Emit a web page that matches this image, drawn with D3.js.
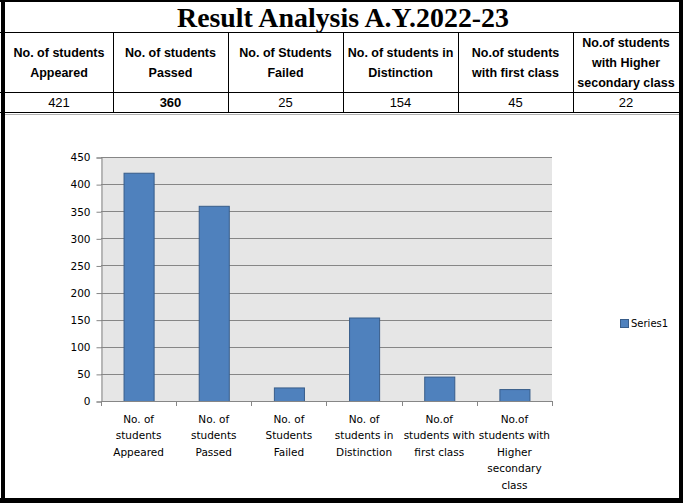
<!DOCTYPE html>
<html>
<head>
<meta charset="utf-8">
<script src="https://cdn.jsdelivr.net/npm/d3@7"></script>
<style>
  body { margin: 0; background: #fff; }
  svg { display: block; }
</style>
</head>
<body>
<svg id="chart" width="683" height="503"></svg>
<script>
// ---------- data ----------
const title = "Result Analysis A.Y.2022-23";
const tableHeaders = [
  ["No. of students", "Appeared"],
  ["No. of students", "Passed"],
  ["No. of Students", "Failed"],
  ["No. of students in", "Distinction"],
  ["No.of students", "with first class"],
  ["No.of students", "with Higher", "secondary class"]
];
const categories = [
  "No. of\nstudents\nAppeared",
  "No. of\nstudents\nPassed",
  "No. of\nStudents\nFailed",
  "No. of\nstudents in\nDistinction",
  "No.of\nstudents with\nfirst class",
  "No.of\nstudents with\nHigher\nsecondary\nclass"
];
const values = [421, 360, 25, 154, 45, 22];
const boldValue = [false, true, false, false, false, false];
const yTicks = [0, 50, 100, 150, 200, 250, 300, 350, 400, 450];
const seriesName = "Series1";

// ---------- drawing ----------
const svg = d3.select("#chart");
const W = 683, H = 503;

svg.append("rect").attr("x", 0).attr("y", 0).attr("width", W).attr("height", H).attr("fill", "#fff");

// table geometry
const colEdges = [5, 113, 228, 343, 458, 573, 679];
const rowHeadTop = 32, rowDataTop = 92, rowDataBottom = 112;

const table = svg.append("g");
[rowHeadTop, rowDataTop, rowDataBottom].forEach(y => {
  table.append("line").attr("x1", 0).attr("x2", W).attr("y1", y + 0.5).attr("y2", y + 0.5)
    .attr("stroke", "#000").attr("stroke-width", 1);
});
table.append("line").attr("x1", 5).attr("x2", 679).attr("y1", 114.5).attr("y2", 114.5)
  .attr("stroke", "#b0b0b0").attr("stroke-width", 1);
colEdges.slice(1, -1).forEach(x => {
  table.append("line").attr("x1", x + 0.5).attr("x2", x + 0.5).attr("y1", rowHeadTop).attr("y2", rowDataBottom)
    .attr("stroke", "#000").attr("stroke-width", 1);
});

// title
table.append("text").attr("x", 343).attr("y", 27).attr("text-anchor", "middle")
  .attr("font-family", "'Liberation Serif', 'Times New Roman', serif").attr("font-weight", "bold")
  .attr("font-size", 28).attr("textLength", 332).attr("lengthAdjust", "spacingAndGlyphs")
  .attr("fill", "#000").text(title);

// headers and values
tableHeaders.forEach((lines, i) => {
  const cx = (colEdges[i] + colEdges[i + 1]) / 2;
  const startY = lines.length === 3 ? 43 : 53;
  lines.forEach((ln, j) => {
    table.append("text").attr("x", cx).attr("y", startY + j * 20).attr("dy", "0.35em")
      .attr("text-anchor", "middle")
      .attr("font-family", "'Liberation Sans', Arial, sans-serif")
      .attr("font-weight", "bold").attr("font-size", 12.5).attr("fill", "#000").text(ln);
  });
  table.append("text").attr("x", cx).attr("y", 102).attr("dy", "0.35em").attr("text-anchor", "middle")
    .attr("font-family", "'Liberation Sans', Arial, sans-serif")
    .attr("font-weight", boldValue[i] ? "bold" : "normal")
    .attr("font-size", 13).attr("fill", "#000").text(values[i]);
});

// ---------- chart ----------
const plot = { left: 101, right: 552, top: 157, bottom: 401 };
const x = d3.scaleBand().domain(categories).range([plot.left, plot.right])
  .paddingInner(0.6).paddingOuter(0.3);
const y = d3.scaleLinear().domain([0, 450]).range([plot.bottom, plot.top]);

const chart = svg.append("g");
chart.append("rect").attr("x", plot.left).attr("y", plot.top)
  .attr("width", plot.right - plot.left).attr("height", plot.bottom - plot.top)
  .attr("fill", "#e6e6e6");

chart.selectAll("line.grid").data(yTicks.filter(t => t > 0)).enter().append("line")
  .attr("class", "grid")
  .attr("x1", plot.left).attr("x2", plot.right)
  .attr("y1", d => Math.round(y(d)) + 0.5).attr("y2", d => Math.round(y(d)) + 0.5)
  .attr("stroke", "#868686").attr("stroke-width", 1);

chart.selectAll("rect.bar").data(categories).enter().append("rect")
  .attr("class", "bar")
  .attr("x", d => x(d) + 0.5)
  .attr("width", x.bandwidth())
  .attr("y", (d, i) => y(values[i]) + 0.5)
  .attr("height", (d, i) => plot.bottom - y(values[i]))
  .attr("fill", "#4f81bd").attr("stroke", "#385d8a").attr("stroke-width", 1);

const yAxis = d3.axisLeft(y).tickValues(yTicks).tickSize(5).tickPadding(6).tickFormat(d3.format("d"));
const yg = chart.append("g").attr("transform", `translate(${plot.left + 0.5},0.5)`).call(yAxis);
yg.select(".domain").attr("stroke", "#868686");
yg.selectAll(".tick line").attr("stroke", "#868686");
yg.selectAll(".tick text").attr("font-family", "'DejaVu Sans', Verdana, sans-serif")
  .attr("font-size", 10.5).attr("fill", "#000");

const step = x.step();
const boundaries = categories.map(c => x(c) - (step - x.bandwidth()) / 2).concat([plot.right]);
chart.append("line").attr("x1", plot.left).attr("x2", plot.right)
  .attr("y1", plot.bottom + 0.5).attr("y2", plot.bottom + 0.5).attr("stroke", "#868686");
chart.selectAll("line.xtick").data(boundaries).enter().append("line")
  .attr("x1", d => Math.round(d) + 0.5).attr("x2", d => Math.round(d) + 0.5)
  .attr("y1", plot.bottom).attr("y2", plot.bottom + 5).attr("stroke", "#868686");

categories.forEach(c => {
  const cx = x(c) + x.bandwidth() / 2;
  const t = chart.append("text").attr("text-anchor", "middle")
    .attr("font-family", "'DejaVu Sans', Verdana, sans-serif").attr("font-size", 10.5).attr("fill", "#000");
  c.split("\n").forEach((ln, j) => {
    t.append("tspan").attr("x", cx).attr("y", 419 + j * 16.5).attr("dy", "0.35em").text(ln);
  });
});

const lg = chart.append("g");
lg.append("rect").attr("x", 620.5).attr("y", 319.5).attr("width", 8).attr("height", 8)
  .attr("fill", "#4f81bd").attr("stroke", "#385d8a");
lg.append("text").attr("x", 631).attr("y", 323.5).attr("dy", "0.35em")
  .attr("font-family", "'DejaVu Sans', Verdana, sans-serif").attr("font-size", 10)
  .attr("fill", "#000").text(seriesName);

// outer thick border
const frame = svg.append("g");
frame.append("rect").attr("x", 1).attr("y", 0).attr("width", 4).attr("height", H).attr("fill", "#000");
frame.append("rect").attr("x", 0).attr("y", 0).attr("width", W).attr("height", 2).attr("fill", "#000");
frame.append("rect").attr("x", 679).attr("y", 0).attr("width", 4).attr("height", H).attr("fill", "#000");
frame.append("rect").attr("x", 0).attr("y", 498).attr("width", W).attr("height", 5).attr("fill", "#000");
</script>
</body>
</html>
